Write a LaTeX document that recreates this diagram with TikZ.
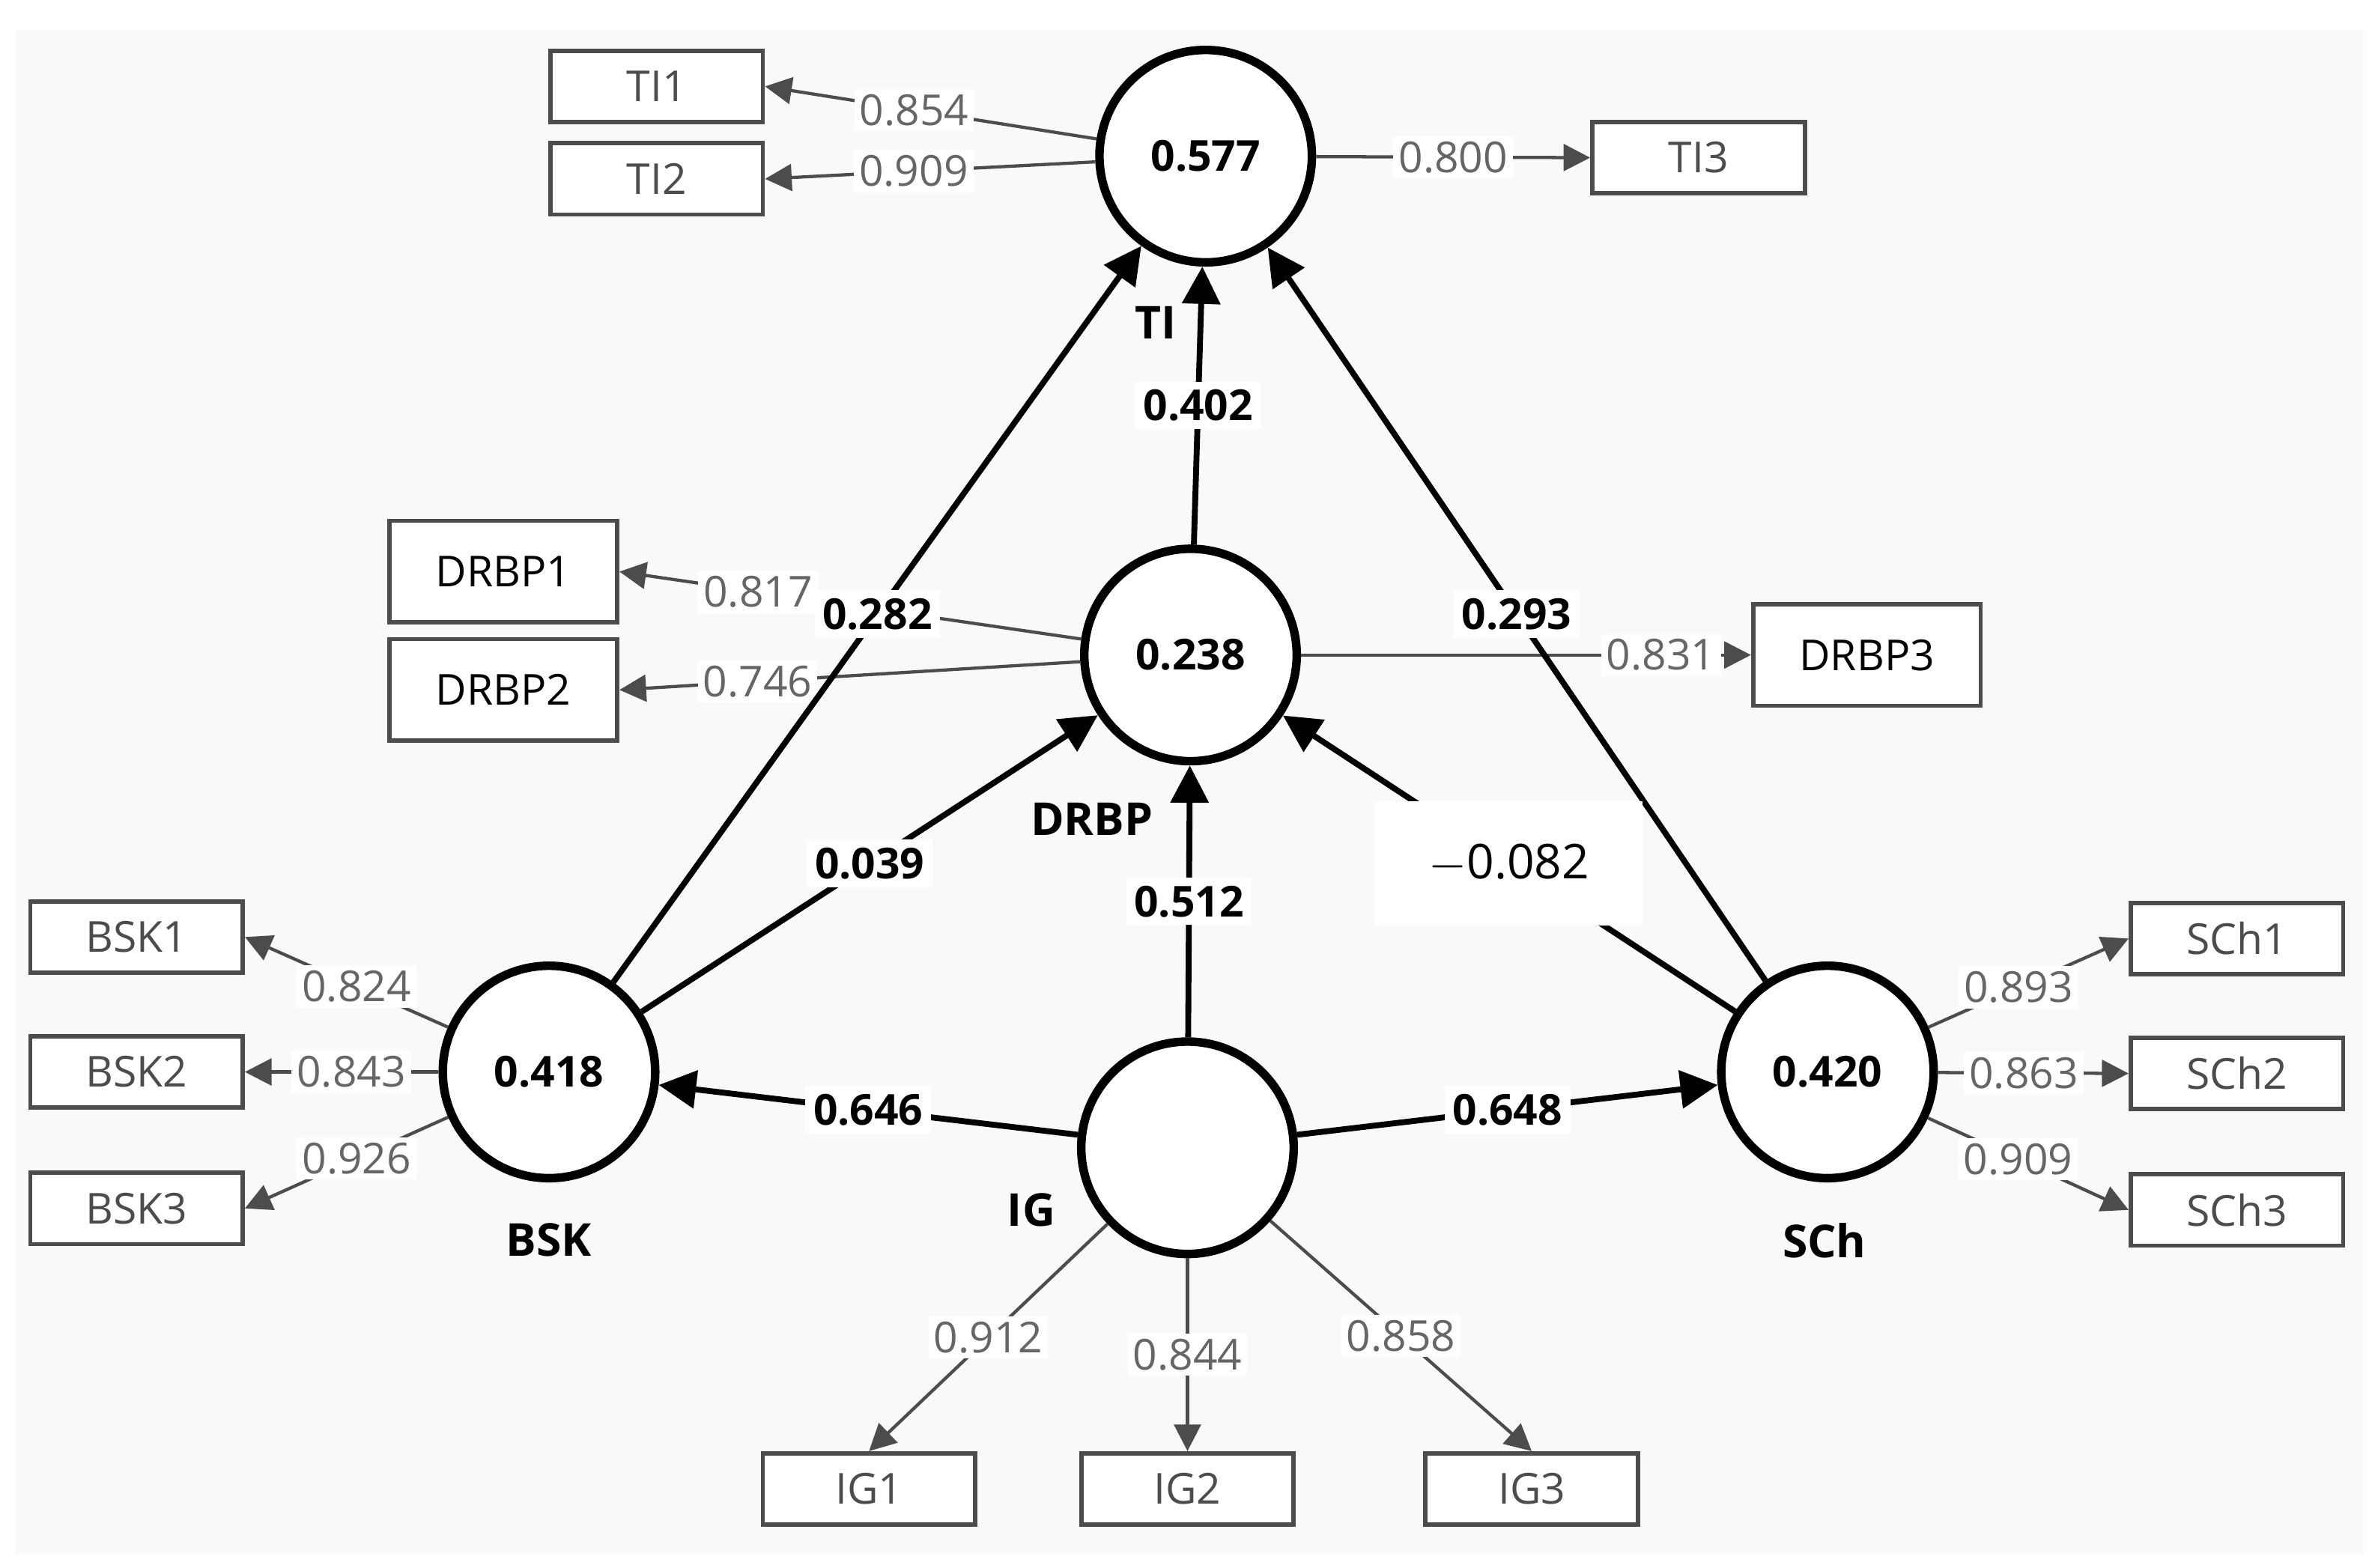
\documentclass[tikz,border=0pt]{standalone}
\usepackage{fontspec}
\setmainfont{Open Sans}
\usetikzlibrary{arrows.meta}
\definecolor{bg}{HTML}{F9F9F9}
\begin{document}
\begin{tikzpicture}[x=0.01cm,y=-0.01cm,
  lat/.style={circle,draw,line width=1.6pt,fill=white,minimum size=1.4cm,inner sep=0pt,font=\fontsize{8}{9}\selectfont\bfseries},
  ind/.style={rectangle,draw=black!70,line width=0.8pt,fill=white,minimum width=1.4cm,minimum height=0.47cm,inner sep=0pt,font=\fontsize{8}{9}\selectfont,text=black!70},
  big/.style={ind,minimum width=1.5cm,minimum height=0.67cm,text=black},
  ld/.style={draw=black!70,line width=0.6pt,-{Triangle[length=5pt,width=5pt]},shorten >=0pt},
  lv/.style={fill=white,inner sep=1pt,font=\fontsize{8}{9}\selectfont,text=black!60},
  pth/.style={draw=black,line width=1.1pt,-{Triangle[length=7pt,width=7pt]}},
  pv/.style={fill=white,inner sep=1.5pt,font=\fontsize{8}{9}\selectfont\bfseries},
  nm/.style={font=\fontsize{8.5}{9}\selectfont\bfseries}]
\useasboundingbox (0,0) rectangle (1568,1034);
\fill[white] (0,0) rectangle (1568,1034);
\fill[bg] (10,20) rectangle (1558,1025);
% latent
\node[lat] (TI) at (795,103) {0.577};
\node[lat] (DRBP) at (785,432) {0.238};
\node[lat] (IG) at (783,757) {};
\node[lat] (BSK) at (362,707) {0.418};
\node[lat] (SCh) at (1205,707) {0.420};
\node[nm] at (762,213) {TI};
\node[nm] at (720,540) {DRBP};
\node[nm] at (362,818) {BSK};
\node[nm] at (680,798) {IG};
\node[nm] at (1203,818) {SCh};
% indicators
\node[ind] (TI1) at (433,57) {TI1};
\node[ind] (TI2) at (433,118) {TI2};
\node[ind] (TI3) at (1120,104) {TI3};
\node[big] (DRBP1) at (332,377) {DRBP1};
\node[big] (DRBP2) at (332,455) {DRBP2};
\node[big] (DRBP3) at (1231,432) {DRBP3};
\node[ind] (BSK1) at (90,618) {BSK1};
\node[ind] (BSK2) at (90,707) {BSK2};
\node[ind] (BSK3) at (90,797) {BSK3};
\node[ind] (SCh1) at (1475,619) {SCh1};
\node[ind] (SCh2) at (1475,708) {SCh2};
\node[ind] (SCh3) at (1475,798) {SCh3};
\node[ind] (IG1) at (573,982) {IG1};
\node[ind] (IG2) at (783,982) {IG2};
\node[ind] (IG3) at (1010,982) {IG3};
% loadings
\path[ld] (TI) -- node[lv,pos=0.55]{0.854} (TI1.east);
\path[ld] (TI) -- node[lv,pos=0.55]{0.909} (TI2.east);
\path[ld] (TI) -- node[lv,pos=0.5]{0.800} (TI3.west);
\path[ld] (DRBP) -- node[lv,pos=0.7]{0.817} (DRBP1.east);
\path[ld] (DRBP) -- node[lv,pos=0.7]{0.746} (DRBP2.east);
\path[ld] (DRBP) -- node[lv,pos=0.8]{0.831} (DRBP3.west);
\path[ld] (BSK) -- node[lv,pos=0.45]{0.824} (BSK1.east);
\path[ld] (BSK) -- node[lv,pos=0.45]{0.843} (BSK2.east);
\path[ld] (BSK) -- node[lv,pos=0.45]{0.926} (BSK3.east);
\path[ld] (SCh) -- node[lv,pos=0.45]{0.893} (SCh1.west);
\path[ld] (SCh) -- node[lv,pos=0.45]{0.863} (SCh2.west);
\path[ld] (SCh) -- node[lv,pos=0.45]{0.909} (SCh3.west);
\path[ld] (IG) -- node[lv,pos=0.5]{0.912} (IG1.north);
\path[ld] (IG) -- node[lv,pos=0.5]{0.844} (IG2.north);
\path[ld] (IG) -- node[lv,pos=0.5]{0.858} (IG3.north);
% paths
\path[pth] (BSK) -- node[pv,pos=0.5]{0.282} (TI);
\path[pth] (DRBP) -- node[pv,pos=0.5]{0.402} (TI);
\path[pth] (SCh) -- node[pv,pos=0.5]{0.293} (TI);
\path[pth] (BSK) -- node[pv,pos=0.5]{0.039} (DRBP);
\path[pth] (IG) -- node[pv,pos=0.5]{0.512} (DRBP);
\path[pth] (SCh) -- node[pv,pos=0.5,font=\fontsize{9}{10}\selectfont,inner xsep=10pt,inner ysep=8pt]{$-$0.082} (DRBP);
\path[pth] (IG) -- node[pv,pos=0.5]{0.646} (BSK);
\path[pth] (IG) -- node[pv,pos=0.5]{0.648} (SCh);
\end{tikzpicture}
\end{document}
